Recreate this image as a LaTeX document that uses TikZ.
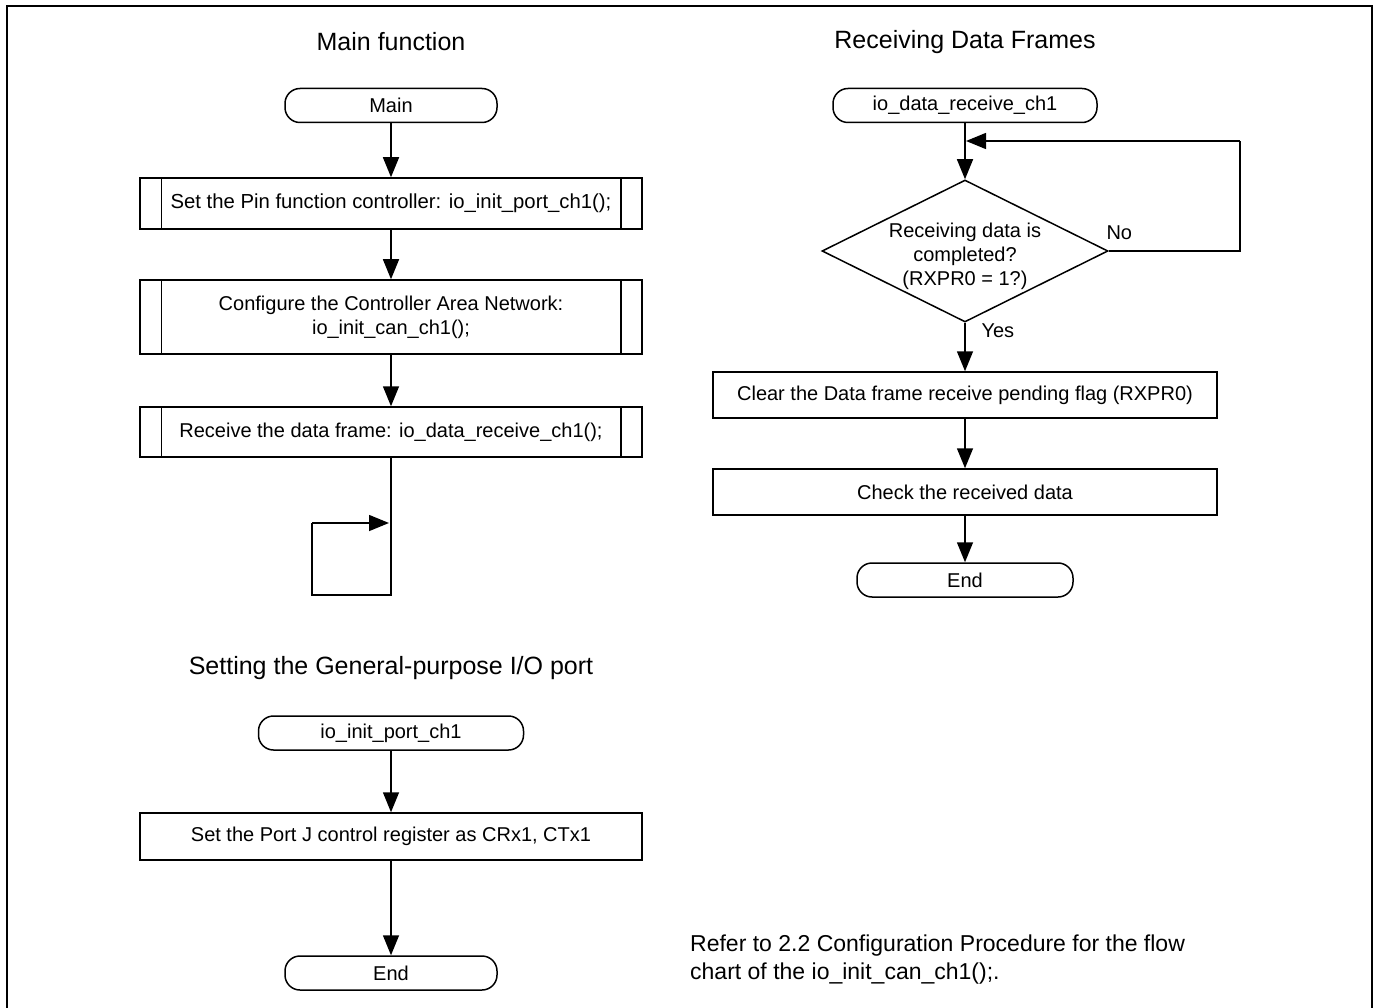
\documentclass[tikz,border=0pt]{standalone}
\usepackage{fontspec}
\setmainfont{Liberation Sans}
\usetikzlibrary{shapes.geometric,arrows.meta}
\tikzset{
  base/.style={draw, line width=1.5pt, inner sep=0pt, align=center, font=\fontsize{20}{24}\selectfont},
  term/.style={base, rounded corners=15pt, minimum height=34pt},
  proc/.style={base, minimum width=502pt},
  predef/.style={proc},
  conn/.style={line width=1.5pt, -{Triangle[length=20pt,width=16pt]}},
  plain/.style={line width=1.5pt},
  title/.style={font=\fontsize{25}{29}\selectfont},
  lbl/.style={font=\fontsize{20}{24}\selectfont},
}
\newcommand{\predefbars}[1]{%
  \draw[plain] ([xshift=22pt]#1.north west) -- ([xshift=22pt]#1.south west);
  \draw[plain] ([xshift=-22pt]#1.north east) -- ([xshift=-22pt]#1.south east);}
\begin{document}
\begin{tikzpicture}[x=1pt,y=-1pt]
\useasboundingbox (0,0) rectangle (1376,1008);
\draw[line width=2.5pt] (7,1010) -- (7,6) -- (1372,6) -- (1372,1010);

% Main function
\node[title] (tmain) at (391,42) {Main function};
\node[term, minimum width=212pt] (main) at (391,105.5) {Main};
\node[predef, minimum height=51pt, font=\fontsize{20.3}{24}\selectfont] (p1) at (391,203.5) {Set the Pin function controller: io\_init\_port\_ch1();};
\node[predef, minimum height=74pt] (p2) at (391,317) {Configure the Controller Area Network:\\io\_init\_can\_ch1();};
\node[predef, minimum height=50pt] (p3) at (391,432) {Receive the data frame: io\_data\_receive\_ch1();};
\predefbars{p1}
\predefbars{p2}
\predefbars{p3}
\draw[conn] (main) -- (p1);
\draw[conn] (p1) -- (p2);
\draw[conn] (p2) -- (p3);
\coordinate (c1) at (391,595);
\coordinate (c2) at (312,595);
\coordinate (c3) at (312,523);
\coordinate (c4) at (389,523);
\draw[plain] (p3.south) -- (c1) -- (c2) -- (c3);
\draw[conn] (c3) -- (c4);

% Receiving Data Frames
\node[title] (trecv) at (965,42) {Receiving Data Frames};
\node[term, minimum width=264pt] (recv) at (965,105.5) {io\_data\_receive\_ch1};
\node[draw, diamond, line width=1.5pt, minimum width=286pt, minimum height=142pt, aspect=2, inner sep=0pt] (d) at (965,251) {};
\node[lbl, align=center] (dtext) at (965,256) {Receiving data is\\completed?\\(RXPR0 = 1?)};
\node[proc, minimum width=504pt, minimum height=46pt] (b1) at (965,395) {Clear the Data frame receive pending flag (RXPR0)};
\node[proc, minimum width=504pt, minimum height=46pt] (b2) at (965,492) {Check the received data};
\node[term, minimum width=216pt] (end2) at (965,580) {End};
\coordinate (r1) at (1240,251);
\coordinate (r2) at (1240,141);
\coordinate (r3) at (966,141);
\draw[conn] (recv) -- (d);
\draw[plain] (d.east) -- (r1) -- (r2);
\draw[conn] (r2) -- (r3);
\node[lbl, anchor=west] (no) at (1103,233) {No};
\node[lbl, anchor=west] (yes) at (978,331) {Yes};
\draw[conn] (d) -- (b1);
\draw[conn] (b1) -- (b2);
\draw[conn] (b2) -- (end2);

% General-purpose I/O port
\node[title] (tport) at (391,668) {Setting the General-purpose I/O port};
\node[term, minimum width=265pt] (port) at (391,733) {io\_init\_port\_ch1};
\node[proc, minimum height=47pt] (b3) at (391,836.5) {Set the Port J control register as CRx1, CTx1};
\node[term, minimum width=212pt] (end3) at (391,973) {End};
\draw[conn] (port) -- (b3);
\draw[conn] (b3) -- (end3);

% note
\node[anchor=north west, align=left, font=\fontsize{23}{28}\selectfont, inner sep=0pt] (note) at (690,935) {Refer to 2.2 Configuration Procedure for the flow\\chart of the io\_init\_can\_ch1();.};
\end{tikzpicture}
\end{document}
